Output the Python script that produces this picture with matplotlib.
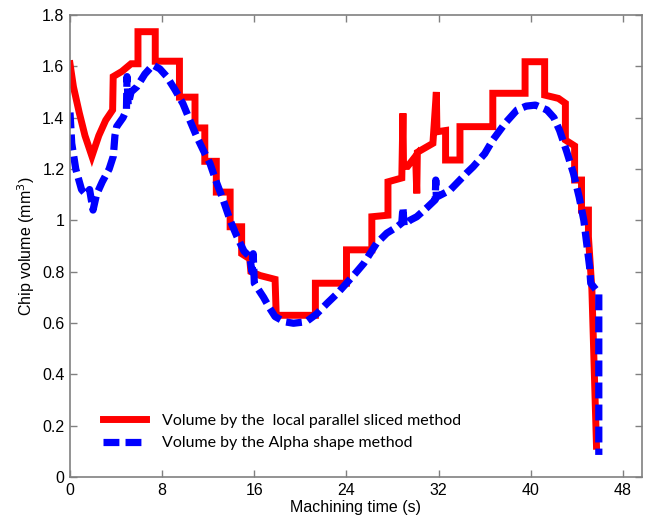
import matplotlib
matplotlib.use("Agg")
import matplotlib.pyplot as plt
from matplotlib.ticker import FormatStrFormatter

# red: local parallel sliced method (step-like trace)
red_t = [0, 0.3, 0.8, 1.3, 1.9, 2.5, 3.1, 3.7, 3.75, 4.5, 5.3, 5.9, 5.9, 7.4, 7.4,
         9.5, 9.5, 10.85, 10.85, 11.7, 11.7, 12.7, 12.7, 13.9, 13.9, 14.9, 14.9,
         15.6, 15.7, 16.5, 17.8, 17.9, 21.3, 21.3, 24.0, 24.0, 26.2, 26.2, 27.6,
         27.6, 28.8, 28.9, 28.95, 29.3, 30.0, 30.1, 30.15, 31.5, 31.8, 31.85,
         32.6, 32.6, 33.85, 33.85, 36.7, 36.7, 39.5, 39.5, 41.2, 41.2, 42.4, 43.0,
         43.0, 43.8, 43.8, 44.4, 44.4, 45.0, 45.0, 45.3, 45.7]
red_v = [1.61, 1.52, 1.42, 1.33, 1.25, 1.33, 1.39, 1.43, 1.56, 1.58, 1.61, 1.61,
         1.735, 1.735, 1.62, 1.62, 1.48, 1.48, 1.36, 1.36, 1.23, 1.23, 1.11, 1.11,
         0.975, 0.975, 0.87, 0.85, 0.80, 0.785, 0.77, 0.63, 0.63, 0.755, 0.755,
         0.885, 0.885, 1.014, 1.02, 1.15, 1.165, 1.417, 1.21, 1.21, 1.25, 1.105,
         1.265, 1.30, 1.50, 1.345, 1.35, 1.235, 1.235, 1.365, 1.365, 1.495, 1.495,
         1.618, 1.618, 1.488, 1.475, 1.456, 1.313, 1.29, 1.157, 1.157, 1.04, 1.04,
         0.936, 0.73, 0.12]

# blue: alpha shape method
blue_t = [0, 0.15, 0.5, 1.0, 1.4, 1.7, 2.0, 2.3, 2.8, 3.4, 3.76, 3.9, 4.05, 4.6,
          4.9, 4.95, 5.05, 5.3, 5.8, 6.5, 7.2, 7.8, 8.4, 9.1, 9.8, 10.4, 11.0,
          11.6, 12.15, 12.7, 13.3, 13.9, 14.5, 15.1, 15.6, 15.8, 15.9, 16.0, 16.8,
          17.3, 17.8, 18.6, 19.4, 20.5, 21.4, 22.3, 23.2, 24.0, 24.8, 25.5, 26.6,
          27.5, 28.4, 28.8, 28.9, 29.0, 29.5, 30.1, 31.0, 31.7, 31.75, 31.8, 33.0,
          34.4, 35.0, 36.0, 36.7, 37.8, 38.8, 39.6, 40.4, 41.4, 42.0, 42.5, 43.1,
          43.7, 44.2, 44.6, 45.1, 45.2, 45.9, 45.9]
blue_v = [1.42, 1.30, 1.2, 1.12, 1.10, 1.12, 1.04, 1.10, 1.15, 1.20, 1.25, 1.33,
          1.365, 1.40, 1.43, 1.56, 1.45, 1.50, 1.52, 1.57, 1.605, 1.59, 1.56, 1.51,
          1.455, 1.39, 1.326, 1.27, 1.222, 1.15, 1.079, 1.0, 0.936, 0.88, 0.858,
          0.80, 0.87, 0.755, 0.70, 0.66, 0.625, 0.605, 0.599, 0.605, 0.635, 0.676,
          0.715, 0.755, 0.795, 0.832, 0.91, 0.95, 0.975, 0.99, 1.05, 0.98, 1.0,
          1.014, 1.05, 1.08, 1.157, 1.09, 1.118, 1.183, 1.209, 1.26, 1.313, 1.38,
          1.43, 1.445, 1.449, 1.43, 1.40, 1.35, 1.27, 1.183, 1.09, 1.0, 0.82,
          0.755, 0.716, 0.086]

x_ticks = [0, 8, 16, 24, 32, 40, 48]
y_ticks = [0, 0.2, 0.4, 0.6, 0.8, 1.0, 1.2, 1.4, 1.6, 1.8]

plt.rcParams['font.family'] = ['Liberation Sans', 'DejaVu Sans']

fig = plt.figure(figsize=(6.46, 5.22), dpi=100)
ax = fig.add_axes([70 / 646, 1 - 477 / 522, 572 / 646, 462 / 522])

ax.plot(red_t, red_v, '-', color='#ff0000', lw=5.0, solid_joinstyle='miter',
        label='Volume by the  local parallel sliced method')
ax.plot(blue_t, blue_v, '--', color='#0000ff', lw=5.2, dashes=(2.2, 0.85),
        dash_capstyle='butt', label='Volume by the Alpha shape method')

ax.set_xlim(0, 49.65)
ax.set_ylim(0, 1.8)
ax.set_xticks(x_ticks)
ax.set_yticks(y_ticks)
ax.yaxis.set_major_formatter(FormatStrFormatter('%g'))
ax.tick_params(direction='in', top=True, right=True, length=5, width=1,
               color='#808080', labelsize=11.5, pad=4)
for s in ax.spines.values():
    s.set_color('#808080')
    s.set_linewidth(1.2)

ax.set_xlabel('Machining time (s)', fontsize=11.5, labelpad=2)
ax.set_ylabel('Chip volume (mm$^3$)', fontsize=11.5, labelpad=4)

leg = ax.legend(loc='lower left', bbox_to_anchor=(0.058, 0.058), frameon=False,
                handlelength=2.7, handletextpad=1.0, labelspacing=0.5,
                borderpad=0, borderaxespad=0,
                prop={'family': ['Lato', 'DejaVu Sans'], 'size': 11.5})

fig.savefig('out.png', dpi=100)
